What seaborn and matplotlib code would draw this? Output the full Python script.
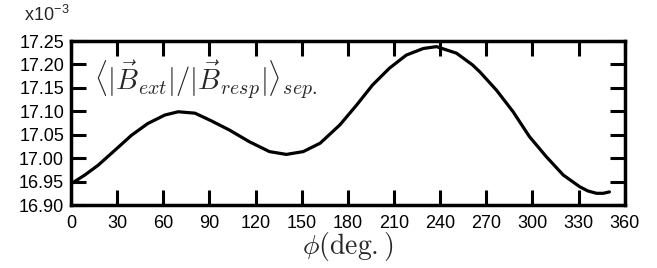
import numpy as np
import matplotlib
matplotlib.use("Agg")
import matplotlib.pyplot as plt
import seaborn as sns
import pandas as pd

# angle (deg) and ratio (x10^-3)
phi = [0, 9, 17.7, 28.6, 39.4, 50, 61, 69.7, 80.6, 91, 103, 116, 129, 140,
       151, 162, 174.8, 185.6, 196, 207, 218, 229, 237.6, 250.6, 261, 265.8,
       276.6, 287.4, 298, 309, 320, 330.7, 336, 341.6, 346, 350]
ratio = [16.945, 16.964, 16.985, 17.017, 17.049, 17.074, 17.092, 17.099, 17.096,
         17.080, 17.060, 17.035, 17.014, 17.008, 17.014, 17.032, 17.071, 17.113,
         17.156, 17.192, 17.220, 17.234, 17.238, 17.224, 17.199, 17.184, 17.145,
         17.099, 17.046, 17.003, 16.964, 16.939, 16.930, 16.925, 16.925, 16.928]
xticks = list(range(0, 361, 30))
yticks = [16.90, 16.95, 17.00, 17.05, 17.10, 17.15, 17.20, 17.25]

df = pd.DataFrame({"phi": phi, "ratio": ratio})

sns.set_theme(style="ticks")
plt.rcParams["font.family"] = ["Liberation Sans", "DejaVu Sans"]
plt.rcParams["mathtext.fontset"] = "cm"

fig = plt.figure(figsize=(6.57, 2.68), dpi=100)
ax = fig.add_axes([0.108, 0.235, 0.843, 0.612])

sns.lineplot(data=df, x="phi", y="ratio", color="black", linewidth=2.3, ax=ax)

ax.set_xlim(0, 360)
ax.set_ylim(16.90, 17.25)
ax.set_xticks(xticks)
ax.set_yticks(yticks)
ax.set_yticklabels([f"{v:.2f}" for v in yticks])
ax.tick_params(direction="in", length=11, width=2.2, top=True, right=True,
               labelsize=13, colors="black", pad=5)
ax.tick_params(axis="x", pad=7)
for s in ax.spines.values():
    s.set_linewidth(2.5)
    s.set_color("black")

ax.set_xlabel(r"$\phi(\mathrm{deg.})$", fontsize=20, labelpad=-1)
ax.set_ylabel("")
ax.text(0.042, 0.76, r"$\langle|\vec{B}_{ext}|/|\vec{B}_{resp}|\rangle_{sep.}$",
        transform=ax.transAxes, fontsize=20.5, va="center", ha="left")
fig.text(0.036, 0.945, r"x10$^{\mathregular{-3}}$", fontsize=13, va="center", ha="left")

fig.savefig("out.png", dpi=100)
